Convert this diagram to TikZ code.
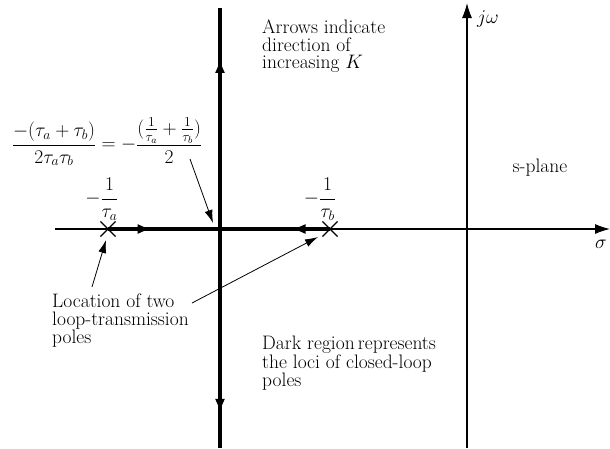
\RequirePackage{fix-cm}
\documentclass[tikz,border=0pt]{standalone}
\usetikzlibrary{arrows.meta,shapes.misc,decorations.markings}
\begin{document}
\begin{tikzpicture}[x=1pt,y=-1pt,
  every node/.style={font=\fontsize{19.5}{17.2}\selectfont},
  axis/.style={line width=1.1pt},
  axtip/.style={-{Latex[length=15pt,width=10pt]}},
  locus/.style={line width=3.5pt},
  note/.style={line width=0.8pt,-{Latex[length=13pt,width=8pt]}},
  txt/.style={align=left,inner sep=0pt,anchor=north west},
  pole/.style={cross out,draw,line width=1.1pt,minimum size=14pt,inner sep=0pt},
  midarrow/.style={postaction={decorate},decoration={markings,
     mark=at position #1 with {\arrow{Latex[length=14pt,width=10pt]}}}}]
\useasboundingbox (0,0) rectangle (610,448);
% axes
\coordinate (xl) at (55,229); \coordinate (xr) at (610,229);
\coordinate (yb) at (467,448); \coordinate (yt) at (467,3);
\draw[axis,axtip] (xl) -- (xr);
\draw[axis,axtip] (yb) -- (yt);
% locus
\coordinate (c) at (220,229);
\coordinate (vt) at (220,8); \coordinate (vb) at (220,448);
\node[pole] (pa) at (108,229) {};
\node[pole] (pb) at (330,229) {};
\draw[locus,midarrow=0.39] (pa.center) -- (c);
\draw[locus,midarrow=0.35] (pb.center) -- (c);
\draw[locus,midarrow=0.77] (c) -- (vt);
\draw[locus,midarrow=0.84] (c) -- (vb);
% labels
\node (jw) at (488,19) {$j\omega$};
\node (sig) at (601,244) {$\sigma$};
\node (sp) at (540,168) {s-plane};
\node (la) at (102,199) {$\displaystyle -\frac{1}{\tau_a}$};
\node (lb) at (320,199) {$\displaystyle -\frac{1}{\tau_b}$};
\node (eq) at (107,142) {$\displaystyle \frac{-(\tau_a+\tau_b)}{2\tau_a\tau_b} = -\frac{(\frac{1}{\tau_a}+\frac{1}{\tau_b})}{2}$};
\node[txt] (arr) at (262,20) {Arrows indicate\\direction of\\increasing $K$};
\node[txt] (dark) at (262,336) {Dark region\,represents\\the loci of closed-loop\\poles};
\node[txt] (loc) at (52,294) {Location of two\\loop-transmission\\poles};
% annotation arrows
\coordinate (eqs) at (190,159); \coordinate (brk) at (213,223);
\draw[note] (eqs) -- (brk);
\coordinate (ls1) at (92,287); \coordinate (lt1) at (106,240);
\draw[note] (ls1) -- (lt1);
\coordinate (ls2) at (192,303); \coordinate (lt2) at (318,237);
\draw[note] (ls2) -- (lt2);
\end{tikzpicture}
\end{document}
